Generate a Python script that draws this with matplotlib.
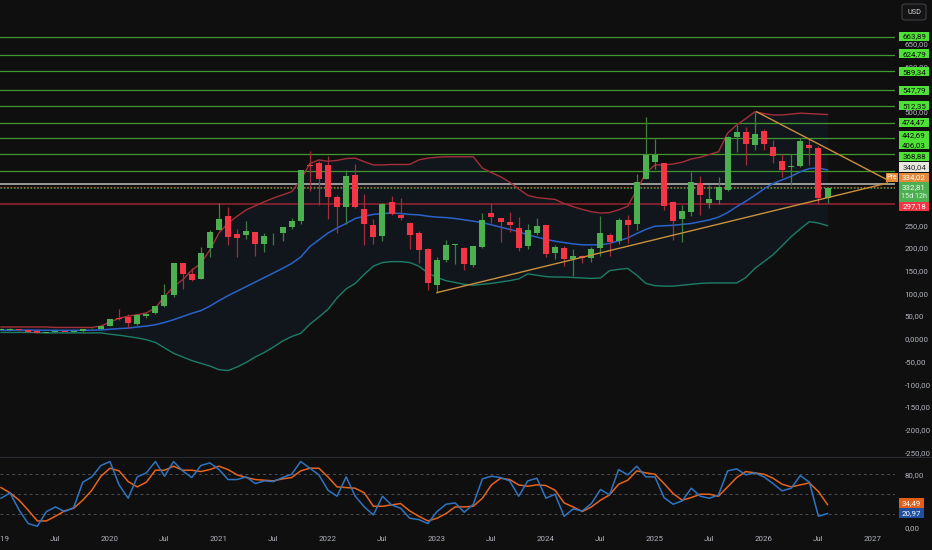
import matplotlib
matplotlib.use("Agg")
import matplotlib.pyplot as plt
from matplotlib.patches import Rectangle, FancyBboxPatch
from matplotlib.lines import Line2D
from matplotlib.ticker import FuncFormatter, FixedLocator

# ---------------- data (monthly, Jan 2019 .. Aug 2026) ----------------
opens = [20.41, 20.38, 20.67, 18.97, 16.25, 12.37, 15.07, 16.17, 14.98, 16.29, 21.01, 22.32,
         28.30, 44.91, 47.42, 33.60, 50.33, 57.20, 72.20, 96.61, 167.38, 143.32, 131.33, 199.20,
         239.82, 271.42, 230.04, 229.46, 234.60, 208.30, 227.80, 233.33, 245.58, 259.47, 381.67, 386.90,
         382.58, 311.74, 289.89, 360.38, 286.92, 251.72, 227.00, 301.28, 272.58, 254.50, 234.05, 197.08,
         118.47, 173.89, 206.21, 199.91, 163.17, 202.59, 276.49, 266.26, 257.26, 244.81, 204.04, 233.14,
         250.08, 188.50, 200.52, 176.17, 182.00, 178.13, 201.02, 227.69, 215.26, 262.67, 252.04, 352.38,
         390.10, 386.68, 300.34, 263.80, 280.01, 343.50, 298.46, 306.20, 328.23, 443.80, 456.00, 426.00,
         457.00, 421.80, 391.60, 377.60, 381.00, 427.00, 421.00, 309.50]
highs = [23.47, 22.92, 20.79, 19.74, 17.19, 15.01, 17.23, 16.53, 16.99, 22.00, 24.13, 29.02,
         43.53, 64.60, 54.37, 53.80, 56.60, 72.67, 119.67, 166.71, 167.50, 155.30, 202.60, 239.57,
         300.13, 290.00, 241.05, 260.26, 236.10, 233.33, 233.33, 246.80, 266.33, 371.74, 414.50, 390.95,
         402.67, 315.92, 371.59, 384.29, 318.50, 264.21, 298.32, 314.67, 309.99, 257.50, 237.40, 198.92,
         180.68, 217.65, 208.50, 202.69, 204.48, 276.99, 299.29, 266.47, 278.98, 268.94, 252.75, 265.13,
         251.25, 205.60, 204.52, 198.87, 184.77, 203.20, 271.00, 232.00, 265.86, 273.54, 361.93, 488.54,
         439.74, 388.00, 303.94, 294.86, 367.71, 357.54, 338.00, 356.00, 447.00, 472.00, 467.00, 500.00,
         462.00, 438.00, 408.00, 408.00, 443.00, 440.00, 425.00, 334.50]
lows = [18.62, 19.08, 16.96, 15.40, 11.80, 11.97, 14.87, 14.07, 14.55, 15.26, 20.51, 21.85,
        28.20, 40.73, 23.37, 29.76, 45.40, 55.56, 70.10, 91.00, 109.96, 126.37, 131.33, 180.40,
        239.06, 206.33, 179.83, 219.80, 182.33, 190.33, 206.72, 216.28, 242.40, 253.50, 326.20, 295.37,
        264.00, 233.33, 252.01, 289.00, 206.86, 208.69, 216.17, 271.81, 262.47, 198.59, 166.19, 108.24,
        101.81, 169.93, 163.91, 152.37, 158.83, 199.37, 254.12, 212.36, 234.58, 194.07, 197.85, 228.20,
        180.06, 175.01, 160.51, 138.80, 167.41, 170.00, 182.00, 182.00, 209.11, 212.11, 238.88, 352.00,
        373.04, 284.08, 217.02, 214.25, 270.00, 273.21, 288.77, 297.82, 325.00, 412.00, 383.00, 415.00,
        416.00, 387.00, 357.00, 338.80, 378.00, 382.80, 297.18, 300.00]
closes = [20.47, 21.33, 18.66, 15.91, 12.34, 14.90, 16.11, 15.04, 16.06, 20.99, 21.99, 27.89,
          43.37, 44.53, 34.93, 52.13, 55.67, 71.99, 95.38, 166.11, 143.00, 129.35, 189.20, 235.22,
          264.51, 225.17, 222.64, 236.48, 208.41, 226.57, 229.07, 245.24, 258.49, 371.33, 381.59, 352.26,
          312.24, 290.14, 359.20, 290.25, 252.75, 224.47, 297.15, 275.61, 265.25, 227.54, 194.70, 123.18,
          173.22, 205.71, 207.46, 164.31, 203.93, 261.77, 267.43, 258.08, 250.22, 200.84, 240.08, 248.48,
          187.29, 201.88, 175.79, 183.28, 178.08, 197.88, 232.07, 214.11, 261.63, 249.85, 345.16, 403.84,
          404.60, 292.98, 259.16, 282.16, 346.46, 317.66, 308.27, 333.87, 444.72, 456.50, 430.00, 452.00,
          429.50, 402.60, 371.80, 381.00, 436.00, 419.60, 309.50, 332.81]

bb_upper = [26, 26, 26, 26, 26, 26, 25, 25, 25, 25,
            25, 28, 37, 45, 50, 53, 57, 68, 93, 115,
            130, 151, 166, 196, 233, 255, 270, 284, 293, 302,
            310, 317, 324, 350, 386, 394, 391, 393, 397, 398,
            390, 383, 383, 384, 384, 384, 394, 398, 400, 401,
            401, 401, 401, 376, 366, 357, 345, 330, 316, 311,
            309, 307, 298, 291, 285, 280, 277, 278, 284, 292,
            328, 365, 383, 383, 385, 389, 396, 400, 406, 412,
            453, 471, 485, 500, 496, 493, 493, 495, 497, 496,
            495, 494]
bb_mid = [19, 19, 19.2, 19.2, 19, 18.8, 18.7, 18.6, 18.6, 18.8,
          19, 19.5, 21, 22.5, 23.5, 26, 28, 31, 36, 42,
          49, 56, 62, 72, 84, 95, 105, 115, 125, 135,
          145, 155, 166, 180, 203, 218, 233, 244, 254, 265,
          270, 274, 276, 277, 276, 274, 273, 270, 268, 267,
          265, 262, 259, 256, 251, 246, 241, 236, 229, 224,
          219, 215, 212, 209, 207, 207, 207, 210, 216, 222,
          232, 241, 248, 249, 250, 252, 254, 258, 262, 268,
          278, 291, 303, 316, 330, 342, 350, 358, 368, 375,
          376, 372]
bb_lower = [14, 14, 14, 14, 13.5, 13, 13, 13, 13, 13,
            13, 13, 10, 8, 5, 2, -2, -8, -20, -32,
            -40, -48, -54, -60, -68, -70, -62, -52, -40, -30,
            -18, -5, 5, 12, 32, 48, 65, 90, 110, 122,
            142, 160, 168, 170, 170, 168, 160, 145, 135, 128,
            124, 120, 118, 120, 122, 125, 128, 132, 143, 140,
            137, 136, 136, 135, 134, 133, 134, 150, 153, 155,
            140, 122, 117, 116, 116, 118, 120, 122, 123, 123,
            123, 123, 135, 155, 170, 185, 205, 225, 242, 258,
            255, 249]

stoch_k = [44, 52, 26, 6, 2, 24, 31, 24, 30, 68, 76, 93, 99, 64, 44, 76, 82, 99, 77, 99,
           85, 75, 93, 97, 87, 72, 72, 76, 66, 70, 69, 75, 80, 99, 89, 79, 56, 47, 76, 47,
           31, 19, 47, 34, 29, 14, 12, 6, 24, 35, 37, 23, 35, 73, 77, 75, 70, 47, 70, 74,
           44, 50, 17, 28, 25, 36, 57, 49, 87, 79, 92, 76, 76, 45, 35, 40, 59, 47, 44, 49,
           85, 88, 79, 82, 76, 66, 55, 59, 78, 68, 17, 20.97]
stoch_d = [60, 52, 41, 26, 10, 10, 17, 25, 29, 41, 56, 77, 89, 85, 69, 61, 68, 86, 86, 92,
           86, 86, 84, 87, 92, 87, 79, 75, 72, 71, 70, 73, 75, 85, 89, 89, 76, 61, 60, 59,
           52, 32, 32, 34, 36, 25, 17, 10, 14, 21, 31, 31, 32, 44, 64, 74, 72, 64, 62, 64,
           63, 56, 37, 31, 24, 31, 41, 49, 65, 71, 85, 82, 80, 66, 51, 41, 45, 50, 50, 47,
           61, 75, 84, 82, 80, 74, 65, 61, 64, 67, 54, 34.49]

# horizontal levels
green_levels = [663.89, 624.79, 589.34, 547.79, 512.35, 474.47, 442.69, 406.03, 368.88]
level_gray = 340.04
level_pre = 334.02
last_price = 332.81
level_red = 297.18
countdown = "15d 12h"

# trendlines (month index, price)
rising_line = ([48.0, 97.6], [101.8, 343.0])
falling_line = ([83.2, 97.6], [500.0, 350.0])

# time axis ticks (month index from Jan 2019)
tick_pos = [0, 6, 12, 18, 24, 30, 36, 42, 48, 54, 60, 66, 72, 78, 84, 90, 96]
tick_lab = ["2019", "Jul", "2020", "Jul", "2021", "Jul", "2022", "Jul", "2023", "Jul",
            "2024", "Jul", "2025", "Jul", "2026", "Jul", "2027"]

# price-scale ticks: those covered completely by the level badges are not shown
price_ticks = [-250, -200, -150, -100, -50, 0, 50, 100, 150, 200, 250, 500, 600, 650]

# ---------------- style ----------------
W, H = 932, 550
BG = "#0f0f0f"
TXT = "#b2b5be"
GREEN = "#4caf50"
RED = "#f23645"
FS = 5.7
plt.rcParams["font.family"] = ["Roboto", "DejaVu Sans"]

fig = plt.figure(figsize=(W / 100, H / 100), dpi=100, facecolor=BG)
ax = fig.add_axes([0, 93 / H, 895 / W, 457 / H])
ax2 = fig.add_axes([0, 18 / H, 895 / W, 75 / H], sharex=ax)
for a in (ax, ax2):
    a.set_facecolor(BG)
    for s in a.spines.values():
        s.set_visible(False)

months = list(range(len(closes)))

# Bollinger band
ax.fill_between(months, bb_lower, bb_upper, color="#2196f3", alpha=0.06, lw=0, zorder=1)
ax.plot(months, bb_upper, color="#a3303a", lw=1.0, zorder=2)
ax.plot(months, bb_mid, color="#2a62c9", lw=1.1, zorder=2)
ax.plot(months, bb_lower, color="#1e7d66", lw=1.0, zorder=2)

# horizontal levels
for v in green_levels:
    ax.axhline(v, color="#44962e", lw=0.9, zorder=1.5)
ax.axhline(level_gray, color="#9a9a9a", lw=1.4, zorder=1.5)
ax.axhline(level_pre, color="#b06a2a", lw=0.8, ls=(0, (1.5, 1.5)), zorder=1.5)
ax.axhline(last_price, color="#3f7f44", lw=0.8, ls=(0, (1.5, 1.5)), zorder=1.5)
ax.axhline(level_red, color="#8e2230", lw=1.2, zorder=1.5)

# candles
for m, o, h, l, c in zip(months, opens, highs, lows, closes):
    up = c >= o
    body = GREEN if up else RED
    wick = "#3d7f41" if up else "#a52d39"
    ax.vlines(m, l, h, color=wick, lw=0.9, zorder=3)
    ht = max(abs(c - o), 1.6)
    ax.bar(m, ht, bottom=min(o, c), width=0.66, color=body, lw=0, zorder=4)

# trendlines
ax.plot(*rising_line, color="#c8903e", lw=1.0, zorder=5)
ax.plot(*falling_line, color="#c8903e", lw=1.0, zorder=5)

ax.set_xlim(-0.11, 98.43)
ax.set_ylim(-260.35, 746.26)
ax.yaxis.tick_right()
ax.yaxis.set_major_locator(FixedLocator(price_ticks))
ax.yaxis.set_major_formatter(FuncFormatter(
    lambda v, p: "0,0000" if abs(v) < 1e-9 else f"{v:.2f}".replace(".", ",")))
ax.tick_params(axis="y", length=0, pad=7, labelsize=FS, labelcolor=TXT)
ax.tick_params(axis="x", which="both", bottom=False, labelbottom=False)

# stochastic RSI panel
for lv in (80, 50, 20):
    ax2.axhline(lv, color="#4a4d55", lw=0.7, ls=(0, (3, 3)), zorder=1)
ax2.plot(months, stoch_k, color="#2f74c0", lw=1.1, zorder=3)
ax2.plot(months, stoch_d, color="#e5641c", lw=1.1, zorder=2)
ax2.set_ylim(-6.6, 105.8)
ax2.yaxis.tick_right()
ax2.yaxis.set_major_locator(FixedLocator([0, 80]))
ax2.yaxis.set_major_formatter(FuncFormatter(lambda v, p: f"{v:.2f}".replace(".", ",")))
ax2.tick_params(axis="y", length=0, pad=7, labelsize=FS, labelcolor=TXT)
ax2.set_xticks(tick_pos)
ax2.set_xticklabels(tick_lab)
ax2.tick_params(axis="x", length=0, pad=3.2, labelsize=FS, labelcolor=TXT)

# separators
fig.add_artist(Line2D([0, 1], [93 / H, 93 / H], transform=fig.transFigure, color="#2a2b30", lw=0.8))


# ---------------- price labels on right scale ----------------
def px_box(x0, y0, w, h, fc, z=5):
    fig.add_artist(Rectangle((x0 / W, 1 - (y0 + h) / H), w / W, h / H,
                             transform=fig.transFigure, fc=fc, ec="none", zorder=z))


def px_text(x, y, s, color, size=FS, ha="center"):
    fig.text(x / W, 1 - y / H, s, color=color, fontsize=size, ha=ha, va="center", zorder=7)


def fmt(v):
    return f"{v:.2f}".replace(".", ",")


LIME = "#4fe236"
green_label_y = [36, 53.7, 71.7, 90, 105.8, 122.5, 135.3, 144.7, 156.3]
for v, yc in zip(green_levels, green_label_y):
    px_box(899, yc - 4.5, 30, 9.0, LIME)
    px_text(914, yc, fmt(v), "#0b0b0b")

px_box(899, 162.2, 30, 9.4, "#e7e7df")
px_text(914, 166.8, fmt(level_gray), "#2a2a2a")

px_box(899, 172.8, 30, 9.3, "#e38a3a")
px_text(914, 177.4, fmt(level_pre), "#ffffff")
px_box(885.5, 172.8, 12.5, 9.3, "#e38a3a")
px_text(891.7, 177.4, "Pre", "#ffffff", size=5.0)

px_box(899, 182.4, 30, 19.6, "#4caf50")
px_text(914, 187.6, fmt(last_price), "#ffffff")
px_text(914, 196.8, countdown, "#e8f5e9", size=5.2)

px_box(899, 202.3, 30, 8.8, RED)
px_text(914, 206.6, fmt(level_red), "#ffffff")

# stoch labels
px_box(899, 498.2, 25, 9.8, "#e0601a")
px_text(911.5, 503.1, fmt(stoch_d[-1]), "#ffffff")
px_box(899, 508.0, 25, 9.8, "#1f4f9e")
px_text(911.5, 512.9, fmt(stoch_k[-1]), "#ffffff")

# USD button
fig.add_artist(FancyBboxPatch((902 / W, 1 - 20 / H), 24 / W, 16 / H,
                              boxstyle="round,pad=0,rounding_size=0.004",
                              transform=fig.transFigure, fc="#141414", ec="#3c3f46", lw=0.8, zorder=5))
px_text(914, 12, "USD", "#d1d4dc", size=5.2)

fig.savefig("out.png", dpi=100, facecolor=BG)
